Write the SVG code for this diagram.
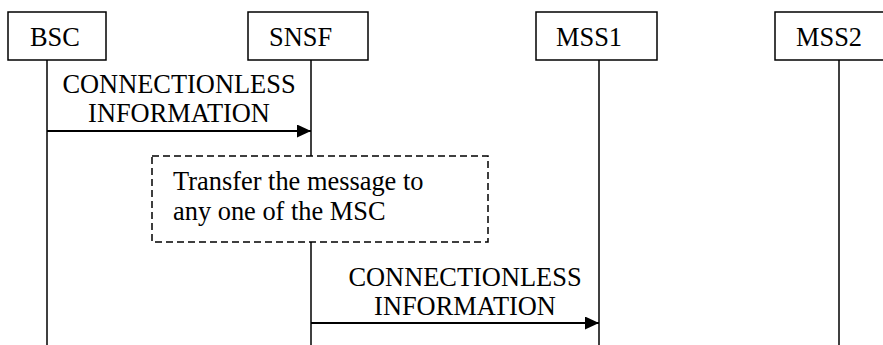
<svg xmlns="http://www.w3.org/2000/svg" width="883" height="345" viewBox="0 0 883 345">
<defs>
<marker id="arr" markerWidth="14" markerHeight="13" refX="14" refY="6.5" orient="auto" markerUnits="userSpaceOnUse">
<path d="M0,0 L14,6.5 L0,13 Z" fill="#000"/>
</marker>
<style>
text{font-family:"Liberation Serif","Times New Roman",serif;font-size:26.4px;fill:#000}
.box{fill:#fff;stroke:#000;stroke-width:1.5}
.life{stroke:#000;stroke-width:1.5;fill:none}
.msg{stroke:#000;stroke-width:2;fill:none}
.note{fill:#fff;stroke:#000;stroke-width:1.5;stroke-dasharray:7 4}
</style>
</defs>
<rect width="883" height="345" fill="#fff"/>
<g id="lifelines">
<line class="life" x1="47" y1="60" x2="47" y2="345"/>
<line class="life" x1="311" y1="60" x2="311" y2="156"/>
<line class="life" x1="311" y1="242" x2="311" y2="345"/>
<line class="life" x1="599" y1="60" x2="599" y2="345"/>
<line class="life" x1="839" y1="60" x2="839" y2="345"/>
</g>
<g id="BSC">
<rect class="box" x="8" y="12" width="98" height="48"/>
<text x="30" y="46">BSC</text>
</g>
<g id="SNSF">
<rect class="box" x="248" y="12" width="120" height="48"/>
<text x="269" y="46">SNSF</text>
</g>
<g id="MSS1">
<rect class="box" x="536" y="12" width="121" height="48"/>
<text x="556" y="46">MSS1</text>
</g>
<g id="MSS2">
<rect class="box" x="775" y="12" width="125" height="48"/>
<text x="796" y="46">MSS2</text>
</g>
<g id="note">
<rect class="note" x="152" y="156" width="336" height="86"/>
<text x="173" y="190">Transfer the message to</text>
<text x="173" y="220">any one of the MSC</text>
</g>
<g id="connectors">
<line class="msg" x1="47" y1="131" x2="311" y2="131" marker-end="url(#arr)"/>
<text x="179" y="93" text-anchor="middle">CONNECTIONLESS</text>
<text x="179" y="122" text-anchor="middle">INFORMATION</text>
<line class="msg" x1="311" y1="323" x2="599" y2="323" marker-end="url(#arr)"/>
<text x="465" y="286" text-anchor="middle">CONNECTIONLESS</text>
<text x="465" y="315" text-anchor="middle">INFORMATION</text>
</g>
</svg>
